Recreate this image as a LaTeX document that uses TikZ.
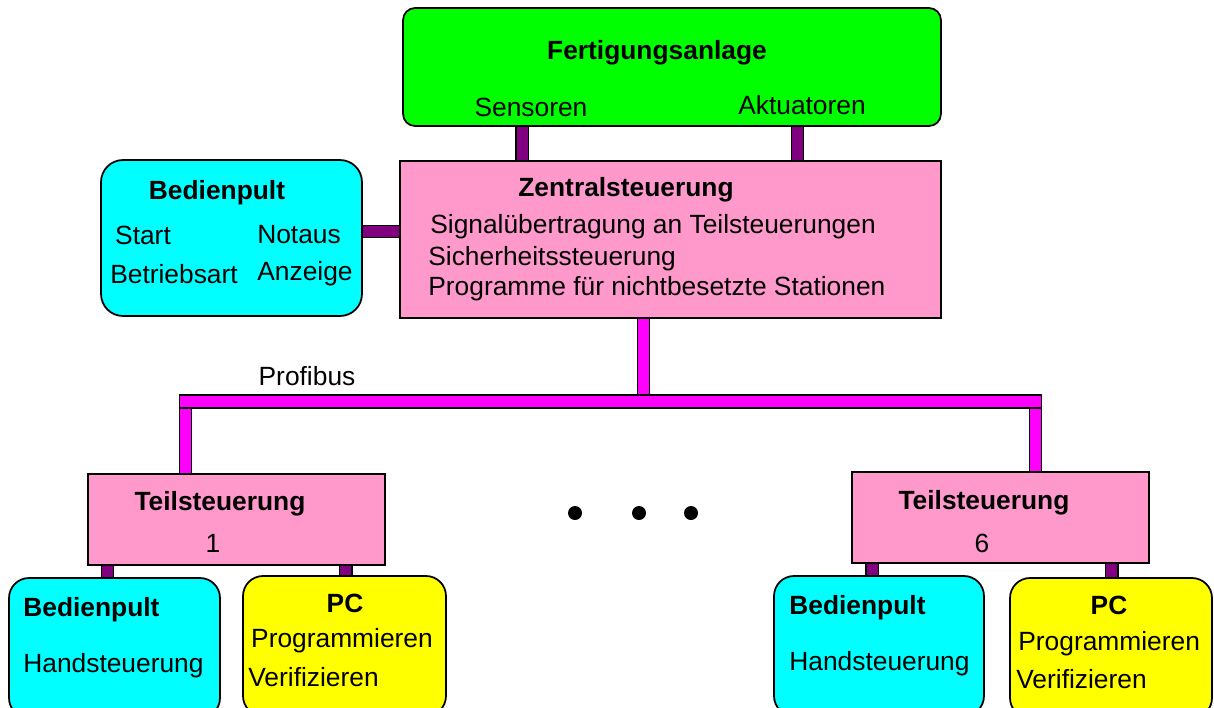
\documentclass[tikz,border=0pt]{standalone}
\usepackage{fontspec}
\setmainfont{Liberation Sans}
\usetikzlibrary{positioning}

\definecolor{anlgruen}{RGB}{0,255,0}
\definecolor{steuerrosa}{RGB}{255,153,204}
\definecolor{pultcyan}{RGB}{0,255,255}
\definecolor{pcgelb}{RGB}{255,255,0}
\definecolor{lila}{RGB}{128,0,128}
\definecolor{busmagenta}{RGB}{255,0,255}

\tikzset{
  box/.style={draw, line width=1pt, inner sep=0pt},
  txt/.style={inner sep=0pt},
  ttl/.style={inner sep=0pt, font=\fontsize{15}{18}\selectfont\bfseries},
  pbar/.style={draw=black, line width=0.6pt, double=lila, double distance=0.22cm},
  mbar/.style={draw=black, line width=0.6pt, double=busmagenta, double distance=0.22cm},
  dot/.style={circle, fill=black, inner sep=0pt, minimum size=0.28cm}
}

\begin{document}
\begin{tikzpicture}[x=0.02cm, y=-0.02cm, font=\fontsize{15}{18}\selectfont]
    \clip (0,0) rectangle (1214,707);

    % boxes
    \node[box, fill=anlgruen, rounded corners=0.24cm, minimum width=10.76cm, minimum height=2.36cm] (anlage) at (672,67) {};
    \node[box, fill=steuerrosa, minimum width=10.82cm, minimum height=3.14cm] (zentral) at (670.5,239.5) {};
    \node[box, fill=pultcyan, rounded corners=0.44cm, minimum width=5.22cm, minimum height=3.12cm] (pultA) at (231.5,238) {};
    \node[box, fill=steuerrosa, minimum width=5.94cm, minimum height=1.82cm] (teilA) at (236.5,519.5) {};
    \node[box, fill=steuerrosa, minimum width=5.94cm, minimum height=1.82cm] (teilB) at (1000.5,517.5) {};
    \node[box, fill=pultcyan, rounded corners=0.4cm, minimum width=4.22cm, minimum height=2.8cm] (pultB) at (114.5,648) {};
    \node[box, fill=pcgelb, rounded corners=0.4cm, minimum width=4.06cm, minimum height=2.8cm] (pcB) at (344.5,646) {};
    \node[box, fill=pultcyan, rounded corners=0.4cm, minimum width=4.2cm, minimum height=2.8cm] (pultC) at (879,646) {};
    \node[box, fill=pcgelb, rounded corners=0.4cm, minimum width=4.04cm, minimum height=2.8cm] (pcC) at (1111,648) {};
    \node[draw, line width=0.6pt, fill=busmagenta, inner sep=0pt, minimum width=17.26cm, minimum height=0.26cm] (bus) at (610.5,401.5) {};

    % texts
    \node[ttl] (anlageT) at (657,53) {Fertigungsanlage};
    \node[txt] (sens) at (531,107) {Sensoren};
    \node[txt] (akt) at (802,105) {Aktuatoren};

    \node[ttl] (zentralT) at (626,190) {Zentralsteuerung};
    \node[txt, anchor=west] (zl1) at (430,227) {Signalübertragung an Teilsteuerungen};
    \node[txt, anchor=west] (zl2) at (428,259) {Sicherheitssteuerung};
    \node[txt, anchor=west] (zl3) at (428,289) {Programme für nichtbesetzte Stationen};

    \node[ttl] (pultAT) at (217,193) {Bedienpult};
    \node[txt] (start) at (143,235) {Start};
    \node[txt] (notaus) at (299,235) {Notaus};
    \node[txt] (betrieb) at (174,274) {Betriebsart};
    \node[txt] (anzeige) at (305,274) {Anzeige};

    \node[txt] (profibus) at (307,376) {Profibus};

    \node[ttl] (teilAT) at (220,504) {Teilsteuerung};
    \node[txt] (teilAN) at (213,543) {1};
    \node[ttl] (teilBT) at (984,503) {Teilsteuerung};
    \node[txt] (teilBN) at (982,543) {6};

    \node[ttl, anchor=west] (pultBT) at (23,610) {Bedienpult};
    \node[txt, anchor=west] (pultBH) at (23,666) {Handsteuerung};
    \node[ttl] (pcBT) at (345,603) {PC};
    \node[txt] (pcBP) at (342,641) {Programmieren};
    \node[txt, anchor=west] (pcBV) at (248,677) {Verifizieren};

    \node[ttl, anchor=west] (pultCT) at (789,608) {Bedienpult};
    \node[txt, anchor=west] (pultCH) at (789,664) {Handsteuerung};
    \node[ttl] (pcCT) at (1109,605) {PC};
    \node[txt, anchor=west] (pcCP) at (1018,644) {Programmieren};
    \node[txt, anchor=west] (pcCV) at (1016,679) {Verifizieren};

    \node[dot] (d1) at (575,513) {};
    \node[dot] (d2) at (639,513) {};
    \node[dot] (d3) at (691,513) {};

    % connectors
    \draw[pbar] ([xshift=-3cm]anlage.south) -- ([xshift=-3cm]anlage.south |- zentral.north);
    \draw[pbar] ([xshift=2.51cm]anlage.south) -- ([xshift=2.51cm]anlage.south |- zentral.north);
    \draw[pbar] ([yshift=0.13cm]pultA.east) -- ([yshift=0.13cm]pultA.east -| zentral.west);

    \draw[mbar] ([xshift=-0.54cm]zentral.south) -- ([xshift=-0.54cm]zentral.south |- bus.north);
    \draw[mbar] ([xshift=-1.02cm]teilA.north) -- ([xshift=-1.02cm]teilA.north |- bus.south);
    \draw[mbar] ([xshift=0.7cm]teilB.north) -- ([xshift=0.7cm]teilB.north |- bus.south);

    \draw[pbar] ([xshift=-2.58cm]teilA.south) -- ([xshift=-2.58cm]teilA.south |- pultB.north);
    \draw[pbar] ([xshift=2.19cm]teilA.south) -- ([xshift=2.19cm]teilA.south |- pcB.north);
    \draw[pbar] ([xshift=-2.57cm]teilB.south) -- ([xshift=-2.57cm]teilB.south |- pultC.north);
    \draw[pbar] ([xshift=2.23cm]teilB.south) -- ([xshift=2.23cm]teilB.south |- pcC.north);
\end{tikzpicture}
\end{document}
